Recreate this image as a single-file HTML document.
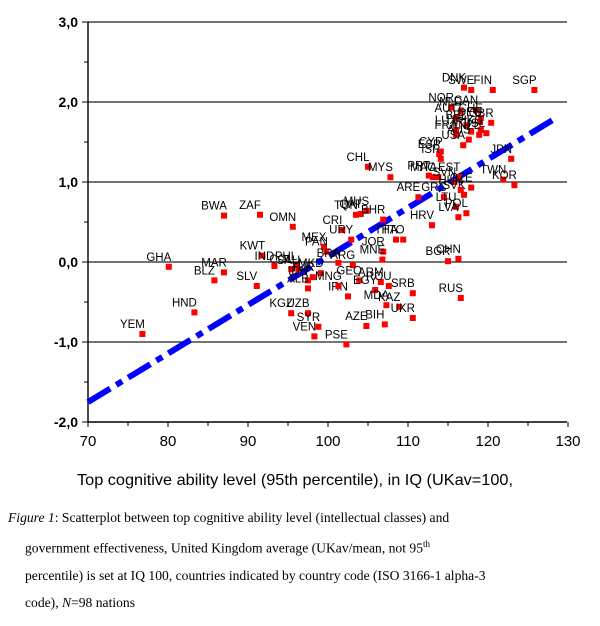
<!DOCTYPE html>
<html><head><meta charset="utf-8"><style>
body{margin:0;background:#fff;width:600px;height:626px;overflow:hidden;font-family:"Liberation Sans",Arial,sans-serif}
svg text{font-family:"Liberation Sans",Arial,sans-serif}
.cap{position:absolute;left:0;top:504px;width:600px;font-family:"Liberation Serif","Times New Roman",serif;font-size:13.6px;line-height:27px;color:#000}
.cap p{margin:0;padding-left:8px}
.cap .ind{padding-left:25px}
</style></head><body>
<svg id="chart" width="600" height="500" style="position:absolute;left:0;top:0">
<g id="grid"></g>
<g id="axes"></g>
<g id="reg"></g>
<g id="pts"></g>
<text x="77" y="485" font-size="16" textLength="436" lengthAdjust="spacingAndGlyphs">Top cognitive ability level (95th percentile), in IQ (UKav=100,</text>
</svg>
<div class="cap">
<p><i>Figure 1</i>: Scatterplot between top cognitive ability level (intellectual classes) and</p>
<p class="ind">government effectiveness, United Kingdom average (UKav/mean, not 95<sup style="font-size:9px">th</sup></p>
<p class="ind">percentile) is set at IQ 100, countries indicated by country code (ISO 3166-1 alpha-3</p>
<p class="ind">code), <i>N</i>=98 nations</p>
</div>
<script>
const countries=["GHA","BWA","ZAF","OMN","KWT","IND","MAR","BLZ","SLV","HND","YEM","KGZ","COL","PHL","SAU","TUN","QAT","MUS","BHR","CRI","THA","TTO","MEX","PAN","URY","JOR","MNE","BRA","ARG","IDN","TUR","MKD","ALB","IRN","MNG","GEO","ARM","EGY","ROU","SRB","KAZ","MDA","UKR","AZE","BIH","RUS","BGR","CHN","HRV","UZB","SYR","VEN","PSE","ARE","SGP","DNK","FIN","SWE","NOR","NLD","CAN","AUT","CHE","BEL","DEU","GBR","LUX","HKG","FRA","IRL","AUS","NZL","ISL","USA","CHL","MYS","ESP","CYP","ISR","MAC","PRT","ITA","SVN","EST","TWN","KOR","JPN","GRC","SVK","CZE","HUN","LTU","POL","LVA"];
const iq=[80.1,87.0,91.5,95.6,91.8,93.3,87.0,85.8,91.1,83.3,76.8,95.4,95.4,96.0,96.3,103.5,104.1,104.8,106.9,101.8,108.5,109.4,99.5,99.8,102.9,106.9,106.8,101.3,103.1,97.5,98.1,99.1,97.5,102.5,101.3,103.9,106.6,105.9,107.6,110.6,108.9,107.3,110.6,104.8,107.1,116.6,115.0,116.3,113.0,97.5,98.8,98.3,102.3,111.3,125.8,117.0,120.6,117.9,115.4,116.6,118.5,116.0,119.1,117.3,119.0,120.4,116.0,119.1,116.0,117.9,117.6,118.9,119.8,116.9,105.0,107.8,113.9,114.1,114.1,113.1,112.6,113.8,115.8,116.4,121.9,123.3,122.9,114.5,117.0,117.9,116.6,116.0,117.3,116.3];
const gov=[-0.06,0.58,0.59,0.44,0.08,-0.05,-0.13,-0.23,-0.30,-0.63,-0.90,-0.64,-0.09,-0.05,-0.10,0.59,0.60,0.64,0.53,0.40,0.28,0.28,0.19,0.13,0.28,0.13,0.03,-0.01,-0.04,-0.23,-0.19,-0.14,-0.33,-0.43,-0.30,-0.23,-0.25,-0.35,-0.30,-0.39,-0.56,-0.54,-0.70,-0.80,-0.78,-0.45,0.01,0.04,0.46,-0.64,-0.81,-0.93,-1.03,0.81,2.15,2.18,2.15,2.15,1.93,1.88,1.90,1.80,1.80,1.71,1.75,1.74,1.65,1.65,1.59,1.63,1.53,1.59,1.61,1.46,1.19,1.06,1.35,1.38,1.29,1.06,1.08,1.06,1.00,1.06,1.03,0.96,1.29,0.81,0.84,0.93,0.90,0.69,0.61,0.56];
const xTicks=[70,80,90,100,110,120,130];
const yTicks=[3,2,1,0,-1,-2];
const yTickLabels=["3,0","2,0","1,0","0,0","-1,0","-2,0"];
const regIntercept=0.07, regSlope=0.0607;
const X=v=>88+(v-70)*8, Y=v=>262-v*80;
const NS="http://www.w3.org/2000/svg";
function mk(t,a,p){const e=document.createElementNS(NS,t);for(const k in a)e.setAttribute(k,a[k]);p.appendChild(e);return e;}
const grid=document.getElementById('grid'),axes=document.getElementById('axes'),reg=document.getElementById('reg'),pts=document.getElementById('pts');
[3,2,1,0,-1].forEach(v=>{const l=mk('line',{x1:88,x2:567,y1:Y(v),y2:Y(v),stroke:'#222','stroke-width':1.2},grid);

});
mk('line',{x1:88,x2:88,y1:Y(3),y2:Y(-2),stroke:'#000','stroke-width':1.4},axes);
mk('line',{x1:88,x2:567,y1:Y(-2),y2:Y(-2),stroke:'#000','stroke-width':1.4},axes);
yTicks.forEach((v,i)=>{mk('line',{x1:82,x2:88,y1:Y(v),y2:Y(v),stroke:'#000'},axes);
if(v>-2)mk('line',{x1:84,x2:88,y1:Y(v-0.5),y2:Y(v-0.5),stroke:'#000'},axes);
const t=mk('text',{x:78,y:Y(v)+5,'text-anchor':'end','font-size':14,'font-weight':'bold'},axes);t.textContent=yTickLabels[i];

});
xTicks.forEach(v=>{mk('line',{x1:X(v),x2:X(v),y1:Y(-2),y2:Y(-2)+5,stroke:'#000'},axes);
if(v<130)mk('line',{x1:X(v+5),x2:X(v+5),y1:Y(-2),y2:Y(-2)+4,stroke:'#000'},axes);
const t=mk('text',{x:X(v),y:Y(-2)+24,'text-anchor':'middle','font-size':15},axes);t.textContent=v;

});
iq.forEach((v,i)=>{const r=mk('rect',{x:X(v)-3,y:Y(gov[i])-3,width:6,height:6,fill:'#ff0000'},pts);


const t=mk('text',{x:X(v)-10,y:Y(gov[i])-6,'text-anchor':'middle','font-size':11.5,fill:'#000'},pts);t.textContent=countries[i];

});
const x0=70,x1=128.2;
const rl=mk('line',{x1:X(x0),y1:Y(regIntercept+regSlope*(x0-100)),x2:X(x1),y2:Y(regIntercept+regSlope*(x1-100)),stroke:'#0000ff','stroke-width':6,'stroke-dasharray':'26,7,7,7'},reg);


</script>
</body></html>
